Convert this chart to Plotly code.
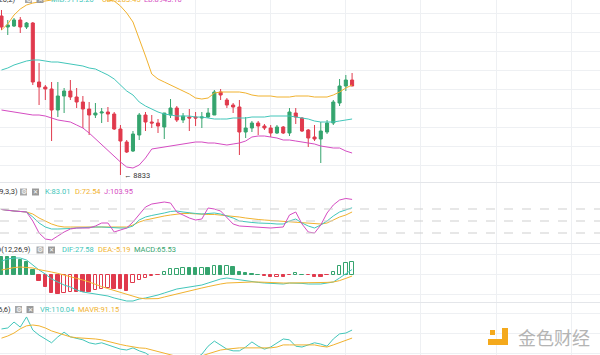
import plotly.graph_objects as go

# ---------------- data ----------------
idx = list(range(57))
open_ = [9628, 9573, 9578, 9608, 9573, 9593, 9298, 9273, 9263, 9158, 9228, 9253, 9223, 9198, 9163, 9133, 9143, 9148, 9138, 9063,
         8998, 8953, 9033, 9133, 9098, 9093, 9073, 9133, 9168, 9108, 9123, 9123, 9118, 9123, 9133, 9248, 9208, 9183, 9173, 9048,
         9068, 9093, 9078, 9068, 9043, 9073, 9043, 9143, 9118, 9058, 9023, 9013, 9048, 9093, 9193, 9278, 9308]
high = [9658, 9608, 9618, 9623, 9598, 9598, 9393, 9283, 9298, 9298, 9268, 9308, 9268, 9228, 9198, 9193, 9168, 9173, 9148, 9083,
        9008, 9053, 9143, 9148, 9133, 9113, 9143, 9213, 9178, 9143, 9163, 9148, 9148, 9168, 9258, 9263, 9218, 9193, 9208, 9123,
        9103, 9103, 9088, 9083, 9083, 9078, 9168, 9168, 9123, 9063, 9083, 9098, 9108, 9208, 9313, 9333, 9343]
low = [9558, 9533, 9573, 9543, 9563, 9283, 9183, 9208, 9003, 9123, 9143, 9208, 9168, 9068, 9033, 9118, 9093, 9098, 9058, 8833,
       8943, 8948, 9008, 9053, 9068, 9043, 9013, 9118, 9098, 9093, 9053, 9078, 9068, 9118, 9133, 9208, 9168, 9143, 8933, 9018,
       9048, 9033, 9058, 9023, 9038, 9038, 9028, 9088, 9048, 8973, 9003, 8893, 9038, 9083, 9178, 9253, 9278]
close = [9573, 9583, 9608, 9573, 9593, 9298, 9273, 9263, 9158, 9228, 9253, 9223, 9198, 9163, 9133, 9143, 9148, 9138, 9063, 9003,
         8948, 9038, 9133, 9098, 9093, 9078, 9143, 9168, 9108, 9128, 9118, 9118, 9123, 9143, 9248, 9233, 9183, 9173, 9048, 9068,
         9093, 9078, 9068, 9043, 9073, 9043, 9148, 9123, 9053, 9018, 9013, 9053, 9093, 9198, 9278, 9308, 9278]

boll_upper = [9558, 9588, 9633, 9663, 9683, 9693, 9698, 9703, 9708, 9713, 9718, 9718, 9718, 9718, 9718, 9713, 9713, 9708, 9703, 9678,
              9643, 9598, 9518, 9428, 9338, 9313, 9298, 9283, 9268, 9253, 9238, 9218, 9213, 9218, 9243, 9248, 9248, 9248, 9248, 9243,
              9233, 9228, 9228, 9228, 9223, 9223, 9223, 9228, 9228, 9228, 9223, 9223, 9223, 9233, 9248, 9268, 9283]
boll_mid = [9358, 9368, 9383, 9393, 9403, 9408, 9408, 9403, 9398, 9398, 9393, 9388, 9383, 9378, 9368, 9363, 9348, 9333, 9313, 9283,
            9253, 9233, 9198, 9178, 9163, 9148, 9138, 9133, 9128, 9128, 9128, 9123, 9123, 9118, 9113, 9113, 9113, 9118, 9118, 9118,
            9123, 9123, 9123, 9128, 9128, 9128, 9128, 9123, 9118, 9113, 9103, 9098, 9098, 9098, 9103, 9108, 9113]
boll_lower = [9158, 9153, 9148, 9143, 9138, 9133, 9133, 9128, 9118, 9108, 9103, 9098, 9083, 9068, 9043, 9013, 8983, 8953, 8923, 8898,
              8873, 8868, 8883, 8918, 8963, 8968, 8973, 8978, 8983, 8988, 8993, 8998, 8998, 8993, 8993, 8988, 8983, 8988, 8993, 9003,
              9023, 9028, 9028, 9023, 9018, 9008, 9008, 9003, 8998, 8993, 8988, 8978, 8973, 8968, 8968, 8953, 8943]

kdj_k = [78.8, 76.3, 75, 73.8, 72.5, 60, 45, 35, 30, 30, 30, 31.3, 32.5, 33.8, 35, 35, 35, 33.8, 32.5, 32.5,
         32.5, 37.5, 52.5, 60, 63.8, 66.3, 70, 73.8, 75, 72.5, 70, 68.8, 67.5, 68.8, 70, 67.5, 62.5, 57.5, 50, 47.5,
         46.3, 45, 45, 43.8, 42.5, 42.5, 50, 55, 45, 37.5, 32.5, 40, 50, 62.5, 72.5, 77.5, 83.01]
kdj_d = [78.8, 76.3, 75, 73.8, 72.5, 67.5, 57.5, 50, 42.5, 37.5, 35, 35, 35, 35, 35, 35, 35, 35, 35, 35,
         35, 40, 47.5, 52.5, 56.3, 60, 62.5, 65, 67.5, 68.8, 68.8, 67.5, 67.5, 66.3, 66.3, 65, 63.8, 62.5, 60, 57.5,
         55, 53.8, 52.5, 51.3, 50, 48.8, 47.5, 47.5, 46.3, 45, 42.5, 42.5, 45, 52.5, 60, 65, 72.54]
kdj_j = [78.8, 76.3, 75, 73.8, 72.5, 50, 20, 5, 2.5, 12.5, 22.5, 30, 32.5, 32.5, 32.5, 37.5, 45, 45, 22.5, 27.5,
         32.5, 47.5, 67.5, 85, 92.5, 95, 97.5, 95, 72.5, 65, 57.5, 52.5, 55, 82.5, 80, 75, 57.5, 42.5, 37.5, 36.3,
         35, 33.8, 32.5, 32.5, 33.8, 35, 65, 72.5, 42.5, 22.5, 20, 40, 70, 90, 102.5, 106.3, 103.95]

macd_hist = [91, 90, 89, 75, 65, 25, -30, -60, -90, -95, -90, -85, -85, -85, -87, -75, -70, -65, -68, -72,
             -78, -40, -25, -15, -5, -2, 15, 30, 31, 35, 34, 33, 35, 34, 45, 45, 46, 40, 15, 10,
             4, 1, -4, -10, -9, -10, -2, 8, 2, -2, -10, -10, -2, 15, 45, 62, 65.53]
macd_dif = [70, 80, 85, 85, 75, 50, 25, 5, -20, -35, -50, -60, -75, -85, -90, -95, -100, -105, -115, -122,
            -130, -130, -120, -115, -108, -100, -90, -80, -70, -65, -60, -55, -50, -40, -30, -20, -15, -20, -25, -30,
            -35, -37, -40, -42, -45, -45, -40, -40, -42, -45, -45, -45, -40, -35, -15, 5, 27.58]
macd_dea = [25, 32, 37, 40, 37, 35, 27, 22, 15, 8, 0, -8, -15, -25, -35, -48, -58, -68, -78, -88,
            -98, -108, -115, -119, -120, -118, -110, -102, -95, -88, -80, -72, -65, -58, -50, -45, -40, -38, -38, -35,
            -35, -35, -37, -37, -40, -40, -40, -40, -40, -40, -40, -40, -37, -35, -28, -17, -5.19]

vr = [112.6, 115, 129, 117, 141, 110, 98, 89, 80, 94, 105, 94, 91, 87, 80, 77, 80, 75, 70, 65,
      63, 68, 61, 56, 46, 37, 32, 30, 30, 32, 37, 44, 53, 72, 84, 75, 65, 61, 61, 70,
      82, 72, 65, 70, 80, 89, 87, 72, 70, 75, 80, 77, 72, 89, 101, 103, 110.04]
mavr = [91, 96, 103, 113, 120, 122, 120, 115, 108, 103, 98, 94, 92, 91, 91, 89, 87, 83, 80, 76,
        73, 70, 68, 67, 63, 58, 54, 50, 47, 44, 44, 47, 49, 54, 58, 63, 65, 67, 68, 68,
        68, 68, 68, 68, 70, 75, 75, 75, 75, 75, 75, 72, 70, 75, 80, 86, 91.15]

low_label = "← 8833"
boll_header = ["BOLL(20,2)", "MID:9113.20", "UB:9283.45", "LB:8943.10"]
kdj_header = ["KDJ(9,3,3)", "K:83.01", "D:72.54", "J:103.95"]
macd_header = ["MACD(12,26,9)", "DIF:27.58", "DEA:-5.19", "MACD:65.53"]
vr_header = ["VR(26,6)", "VR:110.04", "MAVR:91.15"]
watermark = "金色财经"

# ---------------- style ----------------
W, H = 600, 355
GREEN = "#35a46e"
RED = "#e03a4d"
TEAL = "#42c6ba"
ORANGE = "#f1b22f"
MAGENTA = "#d54cc2"
GRID = "#eef0f3"
DARK = "#333333"
FONT = "Roboto, Noto Sans, sans-serif"


def fx(p):
    return p / W


def fy(p):
    return 1 - p / H


fig = go.Figure()

fig.add_trace(go.Candlestick(
    x=idx, open=open_, high=high, low=low, close=close,
    increasing=dict(line=dict(color=GREEN, width=1), fillcolor=GREEN),
    decreasing=dict(line=dict(color=RED, width=1), fillcolor=RED),
    whiskerwidth=0, xaxis="x", yaxis="y"))

for series, col in [(boll_upper, ORANGE), (boll_mid, TEAL), (boll_lower, MAGENTA)]:
    fig.add_trace(go.Scatter(x=idx, y=series, mode="lines", line=dict(color=col, width=1),
                             xaxis="x", yaxis="y", hoverinfo="skip"))

for series, col in [(kdj_d, ORANGE), (kdj_k, TEAL), (kdj_j, MAGENTA)]:
    fig.add_trace(go.Scatter(x=idx, y=series, mode="lines", line=dict(color=col, width=1),
                             xaxis="x", yaxis="y2", hoverinfo="skip"))

# histogram bars: hollow while the MACD value is rising, filled while falling
bar_line = []
bar_fill = []
for i, v in enumerate(macd_hist):
    c = GREEN if v >= 0 else RED
    rising = i > 0 and v > macd_hist[i - 1]
    bar_line.append(c)
    bar_fill.append("white" if rising else c)
fig.add_trace(go.Bar(x=idx, y=macd_hist, width=0.55,
                     marker=dict(color=bar_fill, line=dict(color=bar_line, width=1)),
                     xaxis="x", yaxis="y3", hoverinfo="skip"))
fig.add_trace(go.Scatter(x=idx, y=macd_dif, mode="lines", line=dict(color=TEAL, width=1),
                         xaxis="x", yaxis="y3", hoverinfo="skip"))
fig.add_trace(go.Scatter(x=idx, y=macd_dea, mode="lines", line=dict(color=ORANGE, width=1),
                         xaxis="x", yaxis="y3", hoverinfo="skip"))

fig.add_trace(go.Scatter(x=idx, y=vr, mode="lines", line=dict(color=TEAL, width=1),
                         xaxis="x", yaxis="y4", hoverinfo="skip"))
fig.add_trace(go.Scatter(x=idx, y=mavr, mode="lines", line=dict(color=ORANGE, width=1),
                         xaxis="x", yaxis="y4", hoverinfo="skip"))

common_y = dict(showticklabels=False, zeroline=False, fixedrange=True, gridcolor=GRID, gridwidth=1)
fig.update_layout(
    width=W, height=H, margin=dict(l=0, r=0, t=0, b=0),
    paper_bgcolor="white", plot_bgcolor="white", showlegend=False, bargap=0,
    font=dict(family=FONT, size=8, color=DARK),
    xaxis=dict(range=[-0.24, 95.6], showticklabels=False, showgrid=True, gridcolor=GRID,
               tick0=7, dtick=12, zeroline=False, rangeslider=dict(visible=False), fixedrange=True,
               showline=False),
    yaxis=dict(domain=[fy(182), 1], range=[8798, 9708], tick0=9643, dtick=95, **common_y),
    yaxis2=dict(domain=[fy(243), fy(183)], range=[-5, 145], showgrid=False,
                **{k: v for k, v in common_y.items() if k not in ("gridcolor", "gridwidth")}),
    yaxis3=dict(domain=[fy(302), fy(244)], range=[-135, 155], tick0=-95, dtick=100, **common_y),
    yaxis4=dict(domain=[0, fy(303)], range=[51.2, 173.9], tick0=55.9, dtick=47.2, **common_y),
)

shapes = []
for py in (182.5, 243.5, 302.5):
    shapes.append(dict(type="line", xref="paper", yref="paper", x0=0, x1=1, y0=fy(py), y1=fy(py),
                       line=dict(color="#e4e6ea", width=1)))
for lvl in (20, 50, 80):
    shapes.append(dict(type="line", xref="paper", yref="y2", x0=0, x1=1, y0=lvl, y1=lvl,
                       line=dict(color="#cfcfcf", width=1, dash="dash")))

annotations = []


def txt(x, y, s, color, anchor="left", size=7.5):
    annotations.append(dict(x=fx(x), y=fy(y), xref="paper", yref="paper", text=s, showarrow=False,
                            xanchor=anchor, yanchor="middle", font=dict(family=FONT, size=size, color=color)))


def icons(xg, xx, y):
    for xc, col, glyph, gs in ((xg, "#a8a8a8", "⚙", 7), (xx, "#9a9a9a", "✕", 6)):
        shapes.append(dict(type="rect", xref="paper", yref="paper", x0=fx(xc - 3.5), x1=fx(xc + 3.5),
                           y0=fy(y + 3.5), y1=fy(y - 3.5), fillcolor=col, line=dict(width=0)))
        annotations.append(dict(x=fx(xc), y=fy(y), xref="paper", yref="paper", text=glyph, showarrow=False,
                                xanchor="center", yanchor="middle",
                                font=dict(family="DejaVu Sans", size=gs, color="white")))


# BOLL header (mostly above the visible area)
txt(18, -0.5, boll_header[0], DARK, "right")
icons(28.5, 40, -0.5)
txt(49, -0.5, boll_header[1], TEAL)
txt(100, -0.5, boll_header[2], ORANGE)
txt(142, -0.5, boll_header[3], MAGENTA)

# KDJ header
txt(19.5, 192, kdj_header[0], DARK, "right")
icons(23.5, 35.5, 192)
txt(43, 192, kdj_header[1], TEAL)
txt(73, 192, kdj_header[2], ORANGE)
txt(102, 192, kdj_header[3], MAGENTA)

# MACD header
txt(33, 250, macd_header[0], DARK, "right")
icons(40, 51.5, 250)
txt(60, 250, macd_header[1], TEAL)
txt(96, 250, macd_header[2], ORANGE)
txt(132, 250, macd_header[3], GREEN)

# VR header
txt(12.5, 309.5, vr_header[0], DARK, "right")
icons(18.5, 30, 309.5)
txt(38, 309.5, vr_header[1], TEAL)
txt(76, 309.5, vr_header[2], ORANGE)

# lowest price label
low_i = low.index(min(low))
annotations.append(dict(x=low_i, y=min(low), xref="x", yref="y", text=low_label, showarrow=False,
                        xanchor="left", yanchor="middle", xshift=2,
                        font=dict(family=FONT, size=7.5, color=DARK)))

# watermark
for (x0, y0, x1, y1) in ((490, 330, 495, 335), (502, 328, 508, 345), (488, 339, 508, 345)):
    shapes.append(dict(type="rect", xref="paper", yref="paper", x0=fx(x0), x1=fx(x1), y0=fy(y1), y1=fy(y0),
                       fillcolor="#f4a91c", line=dict(width=0)))
annotations.append(dict(x=fx(554), y=fy(337), xref="paper", yref="paper", text=watermark, showarrow=False,
                        xanchor="center", yanchor="middle",
                        font=dict(family="Noto Sans CJK SC", size=18, color="#b4b4b4")))

fig.update_layout(shapes=shapes, annotations=annotations)
fig.write_html("out.html", config={"displayModeBar": False},
               post_script="document.body.style.margin='0';document.body.style.overflow='hidden';")
